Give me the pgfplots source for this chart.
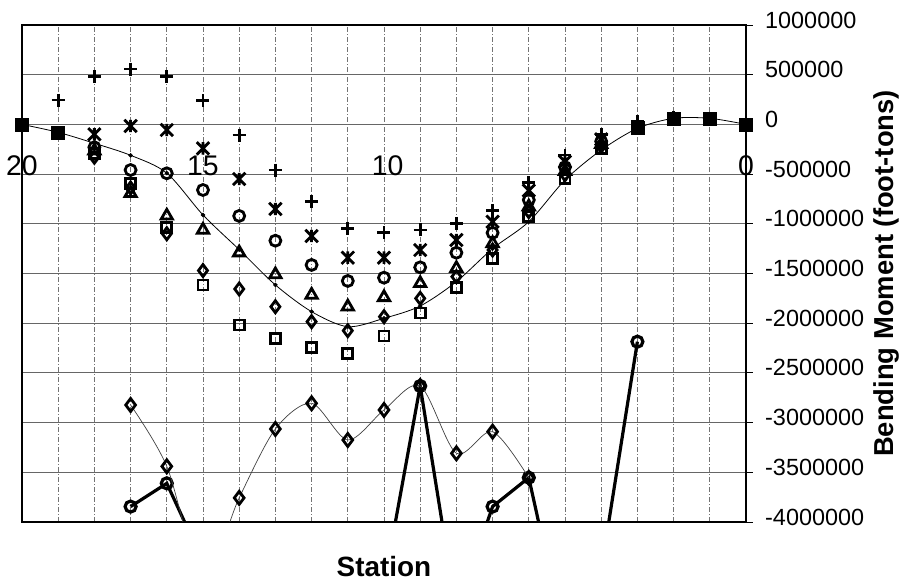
\documentclass[border=0pt]{standalone}
\usepackage{pgfplots}
\usepackage{pgfplotstable}
\pgfplotsset{compat=1.18}
\usepackage{fontspec}
\setmainfont{Liberation Sans}

% bending moment per station, nan = no point
\pgfplotstableread{
st  plus     star     circ     tri      diam     sq       mean     low      thick    fill
20  nan      nan      nan      nan      nan      nan      0        nan      nan      0
19  245000   nan      nan      nan      nan      nan      -80000   nan      nan      -83000
18  480000   -100000  -230000  -265000  -330000  -290000  -190000  nan      nan      nan
17  557000   -16000   -459000  -693000  -640000  -593000  -311000  -2823000 -3845000 nan
16  480000   -56000   -492000  -920000  -1100000 -1035000 -490000  -3440000 -3611000 nan
15  238000   -241000  -660000  -1062000 -1470000 -1616000 -911000  -4560000 -4400000 nan
14  -107000  -549000  -921000  -1290000 -1656000 -2018000 -1260000 -3757000 -5000000 nan
13  -459000  -851000  -1170000 -1510000 -1834000 -2152000 -1615000 -3064000 -5000000 nan
12  -777000  -1123000 -1414000 -1716000 -1985000 -2245000 -1884000 -2806000 -5000000 nan
11  -1045000 -1341000 -1575000 -1834000 -2075000 -2303000 -2035000 -3175000 -5000000 nan
10  -1086000 -1341000 -1542000 -1740000 -1935000 -2128000 -1951000 -2873000 -4630000 nan
9   -1062000 -1264000 -1438000 -1599000 -1750000 -1898000 -1827000 -2632000 -2632000 nan
8   -995000  -1163000 -1291000 -1448000 -1532000 -1644000 -1582000 -3309000 -4900000 nan
7   -870000  -979000  -1091000 -1197000 -1264000 -1352000 -1250000 -3091000 -3845000 nan
6   -585000  -665000  -760000  -828000  -878000  -928000  -979000  -3556000 -3554000 nan
5   -308000  -375000  -430000  -470000  -505000  -542000  -560000  nan      -5200000 nan
4   -100000  -150000  -170000  -200000  -220000  -245000  -258000  nan      -4480000 nan
3   30000    nan      nan      nan      nan      nan      -40000   nan      -2186000 -33000
2   70000    nan      nan      nan      nan      nan      61000    nan      nan      61000
1   nan      nan      nan      nan      nan      nan      61000    nan      nan      61000
0   nan      nan      nan      nan      nan      nan      0        nan      nan      0
}\moment

% Excel-like star: an x with a vertical bar
\pgfdeclareplotmark{xstar}{%
  \pgfpathmoveto{\pgfqpoint{-\pgfplotmarksize}{-\pgfplotmarksize}}%
  \pgfpathlineto{\pgfqpoint{\pgfplotmarksize}{\pgfplotmarksize}}%
  \pgfpathmoveto{\pgfqpoint{-\pgfplotmarksize}{\pgfplotmarksize}}%
  \pgfpathlineto{\pgfqpoint{\pgfplotmarksize}{-\pgfplotmarksize}}%
  \pgfpathmoveto{\pgfqpoint{0pt}{-\pgfplotmarksize}}%
  \pgfpathlineto{\pgfqpoint{0pt}{\pgfplotmarksize}}%
  \pgfusepathqstroke}

\pgfplotsset{
    openmark/.style={only marks, draw=black, fill=white, line width=2.8bp,
        every mark/.append style={line width=2.8bp}},
}

\begin{document}
\begin{tikzpicture}
\useasboundingbox (-22bp,-63bp) rectangle (878bp,522bp);
\begin{axis}[
    name=ax,
    at={(0,0)}, anchor=south west,
    scale only axis,
    width=724bp, height=497bp,
    x dir=reverse,
    xmin=0, xmax=20,
    ymin=-4000000, ymax=1000000,
    xtick={0,1,2,3,4,5,6,7,8,9,10,11,12,13,14,15,16,17,18,19,20},
    xticklabels={},
    xtick style={draw=none},
    ytick={-4000000,-3500000,-3000000,-2500000,-2000000,-1500000,-1000000,-500000,0,500000,1000000},
    yticklabels={-4000000,-3500000,-3000000,-2500000,-2000000,-1500000,-1000000,-500000,0,500000,1000000},
    scaled y ticks=false,
    ytick pos=right,
    yticklabel pos=right,
    tick align=outside,
    major tick length=7bp,
    ytick style={black, line width=0.8bp},
    yticklabel style={anchor=west, inner sep=0pt, xshift=12bp, yshift=5bp,
        font=\fontsize{23.5}{23.5}\selectfont},
    grid=major,
    x grid style={black!55, line width=0.7bp, dash pattern=on 5bp off 2bp on 1bp off 2bp},
    y grid style={black!60, line width=0.8bp},
    axis line style={line width=1.6bp},
    clip mode=individual,
    unbounded coords=jump,
]
% smooth reference curve
\addplot[black, line width=0.8bp, smooth, mark=*, mark size=1.8bp] table[x=st, y=mean] {\moment};
\addplot[only marks, mark=square*, mark size=6.5bp, black] table[x=st, y=fill] {\moment};
% lower series
\addplot[black, line width=3.2bp, mark=o, mark size=5.5bp,
    mark options={fill=white}] table[x=st, y=thick] {\moment};
\addplot[black!75, line width=0.7bp, smooth, mark=diamond, mark size=6.5bp,
    mark options={black, fill=white, line width=2.8bp}] table[x=st, y=low] {\moment};
% upper marker series
\addplot[openmark, mark=square, mark size=5bp] table[x=st, y=sq] {\moment};
\addplot[openmark, mark=diamond, mark size=6bp] table[x=st, y=diam] {\moment};
\addplot[openmark, mark=triangle, mark size=6.5bp] table[x=st, y=tri] {\moment};
\addplot[openmark, mark=o, mark size=5.5bp] table[x=st, y=circ] {\moment};
\addplot[openmark, mark=xstar, mark size=6.2bp] table[x=st, y=star] {\moment};
\addplot[openmark, mark=+, mark size=6.5bp] table[x=st, y=plus] {\moment};

\node[anchor=base, font=\fontsize{28.5}{28.5}\selectfont] at (axis cs:20,-515000) {20};
\node[anchor=base, font=\fontsize{28.5}{28.5}\selectfont] at (axis cs:15,-515000) {15};
\node[anchor=base, font=\fontsize{28.5}{28.5}\selectfont] at (axis cs:9.9,-515000) {10};
\node[anchor=base, font=\fontsize{28.5}{28.5}\selectfont] at (axis cs:0,-515000) {0};
\end{axis}
\node[anchor=base, font=\bfseries\fontsize{28}{28}\selectfont] at ([yshift=-54bp]ax.south) {Station};
\node[rotate=90, anchor=base, font=\bfseries\fontsize{27.5}{27.5}\selectfont] at ([xshift=147bp]ax.east) {Bending Moment (foot-tons)};
\end{tikzpicture}
\end{document}
